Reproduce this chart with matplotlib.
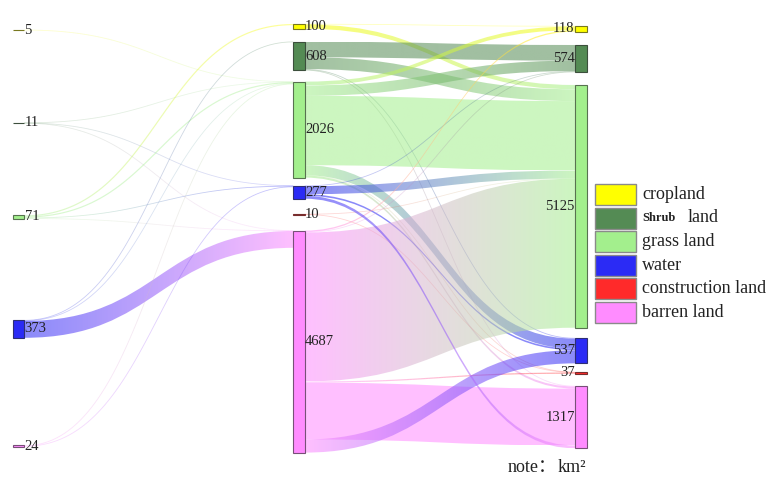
import numpy as np
import matplotlib
matplotlib.use("Agg")
import matplotlib.pyplot as plt
from matplotlib.path import Path
from matplotlib.patches import PathPatch, Rectangle
from matplotlib.collections import LineCollection
from matplotlib.colors import to_rgb

plt.rcParams['font.family'] = ['Liberation Serif', 'Noto Sans CJK SC']

# land classes and their colours
classes = ['cropland', 'shrub', 'grass', 'water', 'construction', 'barren']
class_colors = ['#ffff00', '#548b54', '#a3ef8d', '#2b2bf5', '#ff2a2a', '#ff8cff']
legend_labels = ['cropland', 'Shrub land', 'grass land', 'water', 'construction land', 'barren land']

# node areas (km²) for each period
left_classes = ['cropland', 'shrub', 'grass', 'water', 'barren']
left_values = [5, 11, 71, 373, 24]
mid_values = [100, 608, 2026, 277, 10, 4687]
right_values = [118, 574, 5125, 537, 37, 1317]

# transfers period 1 -> period 2 (source, target, km²)
flows_first = [
    ('cropland', 'grass', 5),
    ('shrub', 'grass', 4),
    ('shrub', 'water', 4),
    ('shrub', 'barren', 3),
    ('grass', 'cropland', 25),
    ('grass', 'grass', 25),
    ('grass', 'water', 15),
    ('grass', 'barren', 6),
    ('water', 'shrub', 10),
    ('water', 'grass', 8),
    ('water', 'barren', 355),
    ('barren', 'grass', 12),
    ('barren', 'water', 12),
]

# transfers period 2 -> period 3 (source, target, km²)
flows_second = [
    ('cropland', 'cropland', 10),
    ('cropland', 'grass', 90),
    ('shrub', 'shrub', 330),
    ('shrub', 'grass', 250),
    ('shrub', 'water', 15),
    ('shrub', 'barren', 13),
    ('grass', 'cropland', 80),
    ('grass', 'shrub', 220),
    ('grass', 'grass', 1465),
    ('grass', 'water', 210),
    ('grass', 'construction', 7),
    ('grass', 'barren', 44),
    ('water', 'shrub', 12),
    ('water', 'grass', 170),
    ('water', 'water', 35),
    ('construction', 'grass', 5),
    ('construction', 'construction', 5),
    ('barren', 'cropland', 28),
    ('barren', 'shrub', 12),
    ('barren', 'grass', 3145),
    ('barren', 'construction', 25),
    ('barren', 'barren', 1200),
    ('barren', 'water', 277),
    ('water', 'barren', 60),
]

W, H = 771, 479
UNIT = 4687 / 222          # km² per pixel
NODE_W = 11.5
COL_X = [12.7, 293.3, 575.0]
COL_START = [29.9, 24.0, 26.0]
COL_GAPS = [
    [92.6, 92.0, 101.5, 107.7],
    [12.9, 11.2, 8.0, 15.4, 16.0],
    [13.4, 12.8, 10.2, 8.6, 12.2],
]
LINK_ALPHA = 0.55
color_of = dict(zip(classes, [np.array(to_rgb(c)) for c in class_colors]))


def stack(values, start, gaps):
    tops, y = [], start * UNIT
    for i, v in enumerate(values):
        tops.append(y)
        y += v
        if i < len(gaps):
            y += gaps[i] * UNIT
    return tops


fig = plt.figure(figsize=(W / 100, H / 100), dpi=100)
ax = fig.add_axes([0, 0, 1, 1])
ax.set_autoscale_on(False)
ax.set_xlim(0, W)
ax.set_ylim(H * UNIT, 0)
ax.axis('off')

columns = [
    (left_classes, left_values),
    (classes, mid_values),
    (classes, right_values),
]
tops = []
for ci, (names, vals) in enumerate(columns):
    tops.append(dict(zip(names, stack(vals, COL_START[ci], COL_GAPS[ci]))))


def draw_link(x0, x1, y0, y1, w, c0, c1):
    xm = (x0 + x1) / 2
    w_px = w / UNIT
    if w_px < 1.2:
        # hairline flow: gradient along the centre curve, fainter when thinner
        t = np.linspace(0, 1, 80)[:, None]
        p0, p1 = np.array([x0, y0 + w / 2]), np.array([x1, y1 + w / 2])
        c_a, c_b = np.array([xm, y0 + w / 2]), np.array([xm, y1 + w / 2])
        pts = ((1 - t) ** 3 * p0 + 3 * (1 - t) ** 2 * t * c_a
               + 3 * (1 - t) * t ** 2 * c_b + t ** 3 * p1)
        segs = np.stack([pts[:-1], pts[1:]], axis=1)
        a = LINK_ALPHA * (0.25 + 0.5 * min(w_px, 1.0))
        cols = [np.append(c0 * (1 - s) + c1 * s, a)
                for s in np.linspace(0, 1, len(segs))]
        lw = max(w_px, 0.8) * 0.72
        ax.add_collection(LineCollection(segs, colors=cols, linewidths=lw, zorder=1))
        return
    verts = [(x0, y0), (xm, y0), (xm, y1), (x1, y1),
             (x1, y1 + w), (xm, y1 + w), (xm, y0 + w), (x0, y0 + w), (x0, y0)]
    codes = [Path.MOVETO, Path.CURVE4, Path.CURVE4, Path.CURVE4,
             Path.LINETO, Path.CURVE4, Path.CURVE4, Path.CURVE4, Path.CLOSEPOLY]
    patch = PathPatch(Path(verts, codes), fc='none', ec='none')
    ax.add_patch(patch)
    g = np.linspace(0, 1, 256)[None, :, None]
    rgba = np.zeros((1, 256, 4))
    rgba[..., :3] = c0 * (1 - g) + c1 * g
    rgba[..., 3] = LINK_ALPHA
    im = ax.imshow(rgba, extent=[x0, x1, max(y0, y1) + w, min(y0, y1)],
                   aspect='auto', interpolation='bilinear', zorder=1)
    im.set_clip_path(patch)


for ci, flows in enumerate([flows_first, flows_second]):
    out_off = {k: 0.0 for k in tops[ci]}
    in_off = {k: 0.0 for k in tops[ci + 1]}
    x0 = COL_X[ci] + NODE_W
    x1 = COL_X[ci + 1]
    for src, dst, v in flows:
        y0 = tops[ci][src] + out_off[src]
        y1 = tops[ci + 1][dst] + in_off[dst]
        out_off[src] += v
        in_off[dst] += v
        draw_link(x0, x1, y0, y1, v, color_of[src], color_of[dst])

# nodes and value labels
for ci, (names, vals) in enumerate(columns):
    x = COL_X[ci]
    for name, v in zip(names, vals):
        top = tops[ci][name]
        edge = color_of[name] * 0.35 + 0.12
        ax.add_patch(Rectangle((x, top), NODE_W, v, fc=color_of[name],
                               ec=edge, lw=0.8, zorder=3))
        if ci < 2:
            ax.text(x + NODE_W + 0.3, top + v / 2, str(v), ha='left',
                    va='center', fontsize=10.5, color='#222222', zorder=4)
        else:
            ax.text(x - 0.3, top + v / 2, str(v), ha='right',
                    va='center', fontsize=10.5, color='#222222', zorder=4)

# legend
LEG_X, LEG_TOP, LEG_W, LEG_H, LEG_STEP = 595, 184, 41, 21, 23.5
for i, (c, lab) in enumerate(zip(class_colors, legend_labels)):
    top = LEG_TOP + i * LEG_STEP
    ax.add_patch(Rectangle((LEG_X, top * UNIT), LEG_W, LEG_H * UNIT, fc=c,
                           ec='#8a8a8a', lw=1.0, zorder=3))
    cy = (top + LEG_H / 2) * UNIT
    if lab.startswith('Shrub'):
        ax.text(LEG_X + 47, cy, 'Shrub', ha='left', va='center',
                fontsize=9, fontweight='bold', color='#222222')
        ax.text(LEG_X + 93, cy, 'land', ha='left', va='center',
                fontsize=13, color='#222222')
    else:
        ax.text(LEG_X + 47, cy, lab, ha='left', va='center',
                fontsize=13, color='#222222')

# unit note
ax.text(508, 467 * UNIT, 'note：', ha='left', va='center', fontsize=13, color='#222222')
ax.text(558, 467 * UNIT, 'km²', ha='left', va='center', fontsize=13, color='#222222')

fig.savefig('out.png', dpi=100, facecolor='white')
